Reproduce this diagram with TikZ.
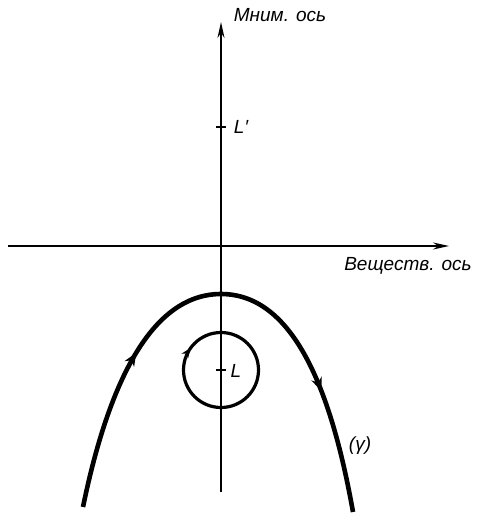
\documentclass[tikz,border=0pt]{standalone}
\usepackage{fontspec}
\setmainfont{Liberation Sans}
\usetikzlibrary{arrows.meta,decorations.markings}

\begin{document}
\begin{tikzpicture}[
  x=1pt, y=-1pt,
  font=\fontsize{19}{22}\selectfont\itshape,
  axis/.style={line width=2pt, -{Stealth[length=16pt,width=7pt]}},
  tick/.style={line width=1.6pt},
  contour/.style={line width=4.6pt, postaction={decorate},
    decoration={markings,
      mark=at position 0.3 with {\arrow{Stealth[length=13pt,width=11pt]}},
      mark=at position 0.77 with {\arrow{Stealth[length=13pt,width=11pt]}}}},
  loop/.style={line width=3.2pt, postaction={decorate},
    decoration={markings,
      mark=at position 0.6 with {\arrow{Stealth[length=10pt,width=8pt]}}}},
  lbl/.style={inner sep=1pt}
]
\useasboundingbox (0,0) rectangle (481,514);

% axes
\coordinate (ybot) at (221,492);
\coordinate (ytop) at (221,22);
\coordinate (xleft) at (8,246);
\coordinate (xright) at (449,246);
\draw[axis] (ybot) -- (ytop);
\draw[axis] (xleft) -- (xright);
\node[lbl] (im) at (280,15) {Мним. ось};
\node[lbl] (re) at (408,266) {Веществ. ось};

% points L' and L
\coordinate (Lp) at (221,127);
\coordinate (L) at (221,370);
\draw[tick] ([xshift=-5pt]Lp) -- ([xshift=5pt]Lp);
\draw[tick] ([xshift=-5pt]L) -- ([xshift=5pt]L);
\node[lbl] (lp) at (241,127) {L′};
\node[lbl] (l) at (236,371) {L};

% small circle round L
\draw[loop] (L) circle (37.5);

% contour gamma
\coordinate (gs) at (83,507);
\coordinate (top) at (221,294);
\coordinate (ge) at (353,512);
\draw[contour] (gs) .. controls (105,400) and (145,294) .. (top)
  .. controls (297,294) and (333,400) .. (ge);
\node[lbl] (g) at (360,446) {(γ)};
\end{tikzpicture}
\end{document}
